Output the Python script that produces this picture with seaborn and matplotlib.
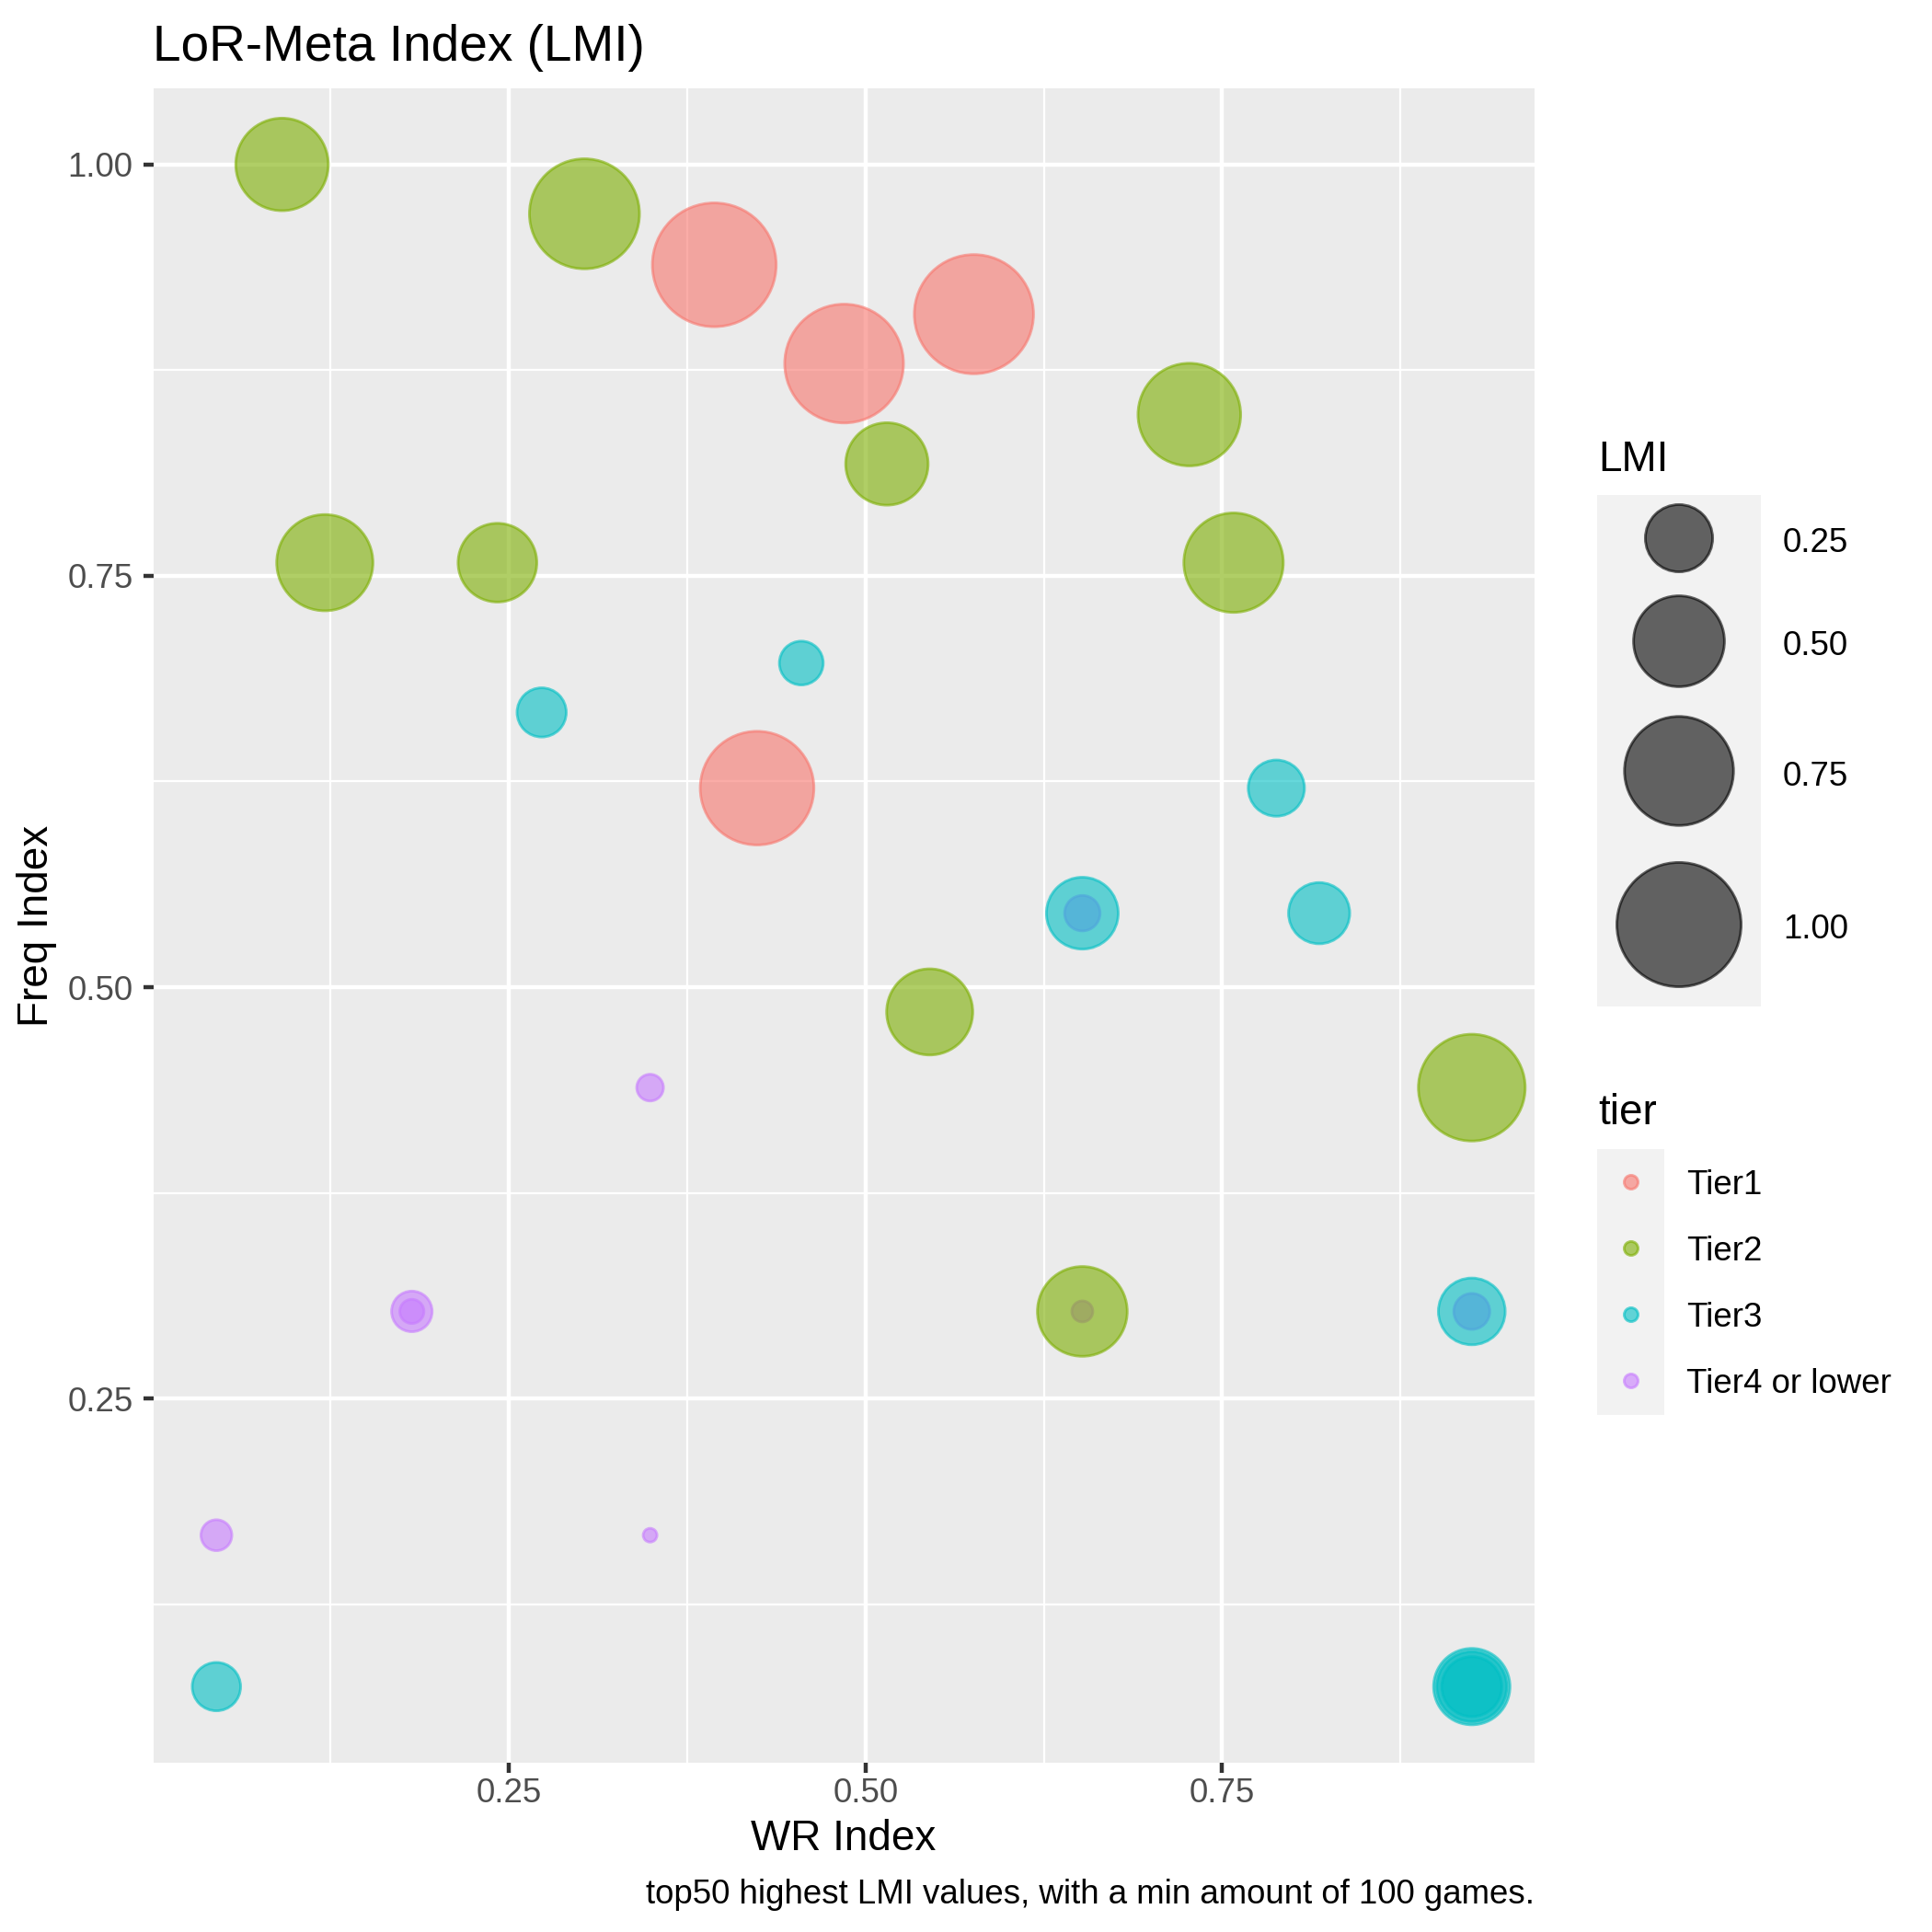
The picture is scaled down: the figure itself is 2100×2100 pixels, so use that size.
import numpy as np
import pandas as pd
import matplotlib
matplotlib.use("Agg")
import matplotlib.pyplot as plt
from matplotlib.patches import Rectangle
from matplotlib.ticker import FixedLocator
import seaborn as sns

# ---------------- data ----------------
tier = (["Tier4 or lower"] * 8 + ["Tier3"] * 10 + ["Tier2"] * 10 + ["Tier1"] * 4)
wr_index = [0.349, 0.182, 0.182, 0.045, 0.349, 0.652, 0.652, 0.925,
            0.455, 0.273, 0.788, 0.652, 0.818, 0.925, 0.045, 0.925, 0.925, 0.925,
            0.091, 0.303, 0.121, 0.242, 0.515, 0.727, 0.758, 0.545, 0.925, 0.652,
            0.394, 0.485, 0.576, 0.424]
freq_index = [0.439, 0.303, 0.303, 0.167, 0.167, 0.303, 0.545, 0.303,
              0.697, 0.667, 0.621, 0.545, 0.545, 0.303, 0.075, 0.075, 0.075, 0.075,
              1.000, 0.970, 0.758, 0.758, 0.818, 0.848, 0.758, 0.485, 0.439, 0.303,
              0.939, 0.879, 0.909, 0.621]
lmi = [0.021, 0.071, 0.015, 0.033, 0.001, 0.009, 0.049, 0.051,
       0.087, 0.117, 0.163, 0.292, 0.200, 0.246, 0.112, 0.337, 0.275, 0.190,
       0.521, 0.766, 0.569, 0.361, 0.401, 0.657, 0.612, 0.443, 0.717, 0.487,
       0.992, 0.906, 0.913, 0.823]

tier_levels = ["Tier1", "Tier2", "Tier3", "Tier4 or lower"]
tier_colors = ["#F8766D", "#7CAE00", "#00BFC4", "#C77CFF"]
lmi_breaks = [0.25, 0.50, 0.75, 1.00]
x_breaks = [0.25, 0.50, 0.75]
y_breaks = [0.25, 0.50, 0.75, 1.00]

title = "LoR-Meta Index (LMI)"
x_title = "WR Index"
y_title = "Freq Index"
caption = "top50 highest LMI values, with a min amount of 100 games."

# ---------------- styling helpers ----------------
W = 2100
DPI = 300
PX = DPI / 72.0
EDGE = 0.7


def marker_area(v):
    d_px = 14 + 124 * np.sqrt(np.asarray(v, dtype=float))
    return (d_px / PX - EDGE) ** 2


def fx(px):
    return px / W


def fy(py):
    return 1 - py / W


sns.set_style("darkgrid", {"axes.facecolor": "#EBEBEB", "grid.color": "white",
                           "figure.facecolor": "white"})
plt.rcParams["font.family"] = ["Liberation Sans", "DejaVu Sans"]

df = pd.DataFrame({"tier": tier, "WR": wr_index, "Freq": freq_index, "LMI": lmi})
df["area"] = marker_area(df["LMI"])
amin, amax = df["area"].min(), df["area"].max()

fig = plt.figure(figsize=(W / DPI, W / DPI), dpi=DPI)
ax = fig.add_axes([fx(167), fy(1916), fx(1668 - 167), (1916 - 96) / W])

sns.scatterplot(data=df, x="WR", y="Freq", hue="tier", hue_order=tier_levels,
                palette=dict(zip(tier_levels, tier_colors)),
                size="area", sizes=(amin, amax), size_norm=(amin, amax),
                alpha=0.6, edgecolor="face", linewidth=EDGE, legend=False, ax=ax)

# ggplot-like expansion
xr = df["WR"].max() - df["WR"].min()
yr = df["Freq"].max() - df["Freq"].min()
ax.set_xlim(df["WR"].min() - 0.05 * xr, df["WR"].max() + 0.05 * xr)
ax.set_ylim(df["Freq"].min() - 0.05 * yr, df["Freq"].max() + 0.05 * yr)

ax.set_xticks(x_breaks)
ax.set_xticklabels([f"{b:.2f}" for b in x_breaks])
ax.set_yticks(y_breaks)
ax.set_yticklabels([f"{b:.2f}" for b in y_breaks])
ax.xaxis.set_minor_locator(FixedLocator([0.125, 0.375, 0.625, 0.875]))
ax.yaxis.set_minor_locator(FixedLocator([0.125, 0.375, 0.625, 0.875]))
ax.grid(which="major", color="white", linewidth=1.07)
ax.grid(which="minor", color="white", linewidth=0.53)
ax.set_axisbelow(True)
ax.tick_params(which="major", length=2.75, width=1.07, color="#333333",
               labelsize=8.8, labelcolor="#4D4D4D")
ax.tick_params(axis="y", which="major", pad=2.6, left=True)
ax.tick_params(axis="x", which="major", pad=1.0, bottom=True)
ax.tick_params(which="minor", length=0)
for s in ax.spines.values():
    s.set_visible(False)
ax.set_xlabel("")
ax.set_ylabel("")

# titles
fig.text(fx(166), fy(66), title, fontsize=13.2, ha="left", va="baseline", color="black")
fig.text(fx(917), fy(2011), x_title, fontsize=11, ha="center", va="baseline", color="black")
fig.text(fx(40), fy(1006), y_title, fontsize=11, ha="center", va="center",
         rotation=90, color="black")
fig.text(fx(1668), fy(2069), caption, fontsize=8.8, ha="right", va="baseline", color="black")

# ---------------- legends (ggplot style) ----------------
lax = fig.add_axes([0, 0, 1, 1], facecolor="none")
lax.set_xlim(0, W)
lax.set_ylim(W, 0)
lax.axis("off")

# LMI size legend
lax.text(1737, 512, "LMI", fontsize=11, ha="left", va="baseline", color="black")
lax.add_patch(Rectangle((1736, 538), 1914 - 1736, 1094 - 538, facecolor="#F2F2F2",
                        edgecolor="none"))
size_y = [585, 697, 838, 1005]
lax.scatter([1825] * len(lmi_breaks), size_y, s=marker_area(lmi_breaks),
            color="black", alpha=0.6, edgecolors="face", linewidths=EDGE)
for yy, b in zip(size_y, lmi_breaks):
    lax.text(1938, yy + 6, f"{b:.2f}", fontsize=8.8, ha="left", va="center", color="black")

# tier colour legend
lax.text(1737, 1222, "tier", fontsize=11, ha="left", va="baseline", color="black")
lax.add_patch(Rectangle((1736, 1249), 1809 - 1736, 1538 - 1249, facecolor="#F2F2F2",
                        edgecolor="none"))
tier_y = [1285, 1357, 1429, 1501]
key_area = (18 / PX - EDGE) ** 2
lax.scatter([1773] * len(tier_levels), tier_y, s=key_area, c=tier_colors,
            alpha=0.6, edgecolors="face", linewidths=EDGE)
for yy, lab in zip(tier_y, tier_levels):
    lax.text(1833, yy + 4, lab, fontsize=8.8, ha="left", va="center", color="black")

fig.savefig("out.png", dpi=DPI)
